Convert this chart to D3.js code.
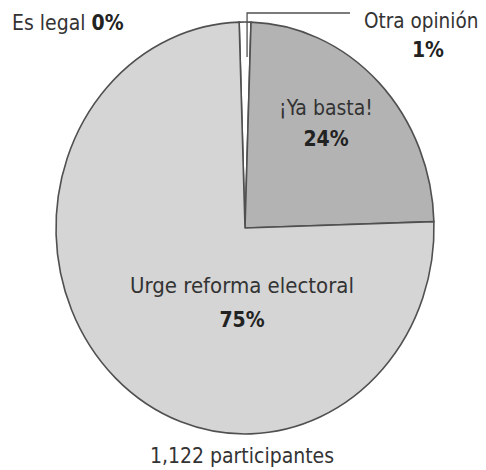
<!DOCTYPE html>
<html lang="es">
<head>
<meta charset="UTF-8">
<title>Encuesta</title>
<script src="https://d3js.org/d3.v7.min.js"></script>
<style>
  body { margin: 0; background: #fff; }
  text { font-family: "Liberation Sans Narrow", "DejaVu Sans Condensed", "Roboto", sans-serif; fill: #333; }
  .pct { font-weight: bold; fill: #222; }
</style>
</head>
<body>
<svg id="chart" width="486" height="470"></svg>
<script>
  // poll answers, clockwise from the top
  const categories = ["Es legal", "Otra opinión", "¡Ya basta!", "Urge reforma electoral"];
  const values = [0, 1, 24, 75];
  const fills = ["#ffffff", "#ffffff", "#b3b3b3", "#d5d5d5"];
  const total = "1,122 participantes";

  const svg = d3.select("#chart");
  const cx = 245, cy = 228, rx = 189, ry = 206;

  const start = -0.031;
  const pie = d3.pie().sort(null).startAngle(start).endAngle(start + 2 * Math.PI);
  const arcs = pie(values);
  const arc = d3.arc().innerRadius(0).outerRadius(rx);

  const g = svg.append("g")
      .attr("transform", `translate(${cx},${cy}) scale(1,${ry / rx})`);

  g.selectAll("path")
    .data(arcs)
    .enter()
    .append("path")
    .attr("d", arc)
    .attr("fill", (d, i) => fills[i])
    .attr("stroke", "#505050")
    .attr("stroke-width", 1.6)
    .attr("vector-effect", "non-scaling-stroke")
    .attr("stroke-linejoin", "round");

  // map pie angle + radius fraction to screen point
  const pt = (a, f) => [cx + Math.sin(a) * rx * f, cy - Math.cos(a) * ry * f];

  // leader for "Otra opinión"
  const mid = (arcs[1].startAngle + arcs[1].endAngle) / 2;
  const p0 = pt(mid, 0.83);
  svg.append("polyline")
    .attr("points", `${p0[0] + 2},${p0[1]} ${p0[0] + 2},13 350,13`)
    .attr("fill", "none")
    .attr("stroke", "#505050")
    .attr("stroke-width", 1.3);

  // labels
  const lab = svg.append("g");

  const esLegal = lab.append("text").attr("x", 12).attr("y", 30).attr("font-size", 21);
  esLegal.append("tspan").text(categories[0] + " ");
  esLegal.append("tspan").attr("class", "pct").text(values[0] + "%");

  lab.append("text").attr("x", 364).attr("y", 28).attr("font-size", 20.5)
    .text(categories[1]);
  lab.append("text").attr("class", "pct").attr("x", 428).attr("y", 57)
    .attr("font-size", 21).attr("text-anchor", "middle").text(values[1] + "%");

  lab.append("text").attr("x", 326).attr("y", 115).attr("font-size", 21)
    .attr("text-anchor", "middle").text(categories[2]);
  lab.append("text").attr("class", "pct").attr("x", 326).attr("y", 146)
    .attr("font-size", 21).attr("text-anchor", "middle").text(values[2] + "%");

  lab.append("text").attr("x", 242).attr("y", 293).attr("font-size", 22)
    .attr("text-anchor", "middle").text(categories[3]);
  lab.append("text").attr("class", "pct").attr("x", 242).attr("y", 327)
    .attr("font-size", 21).attr("text-anchor", "middle").text(values[3] + "%");

  lab.append("text").attr("x", 242).attr("y", 463).attr("font-size", 21)
    .attr("text-anchor", "middle").text(total);
</script>
</body>
</html>
